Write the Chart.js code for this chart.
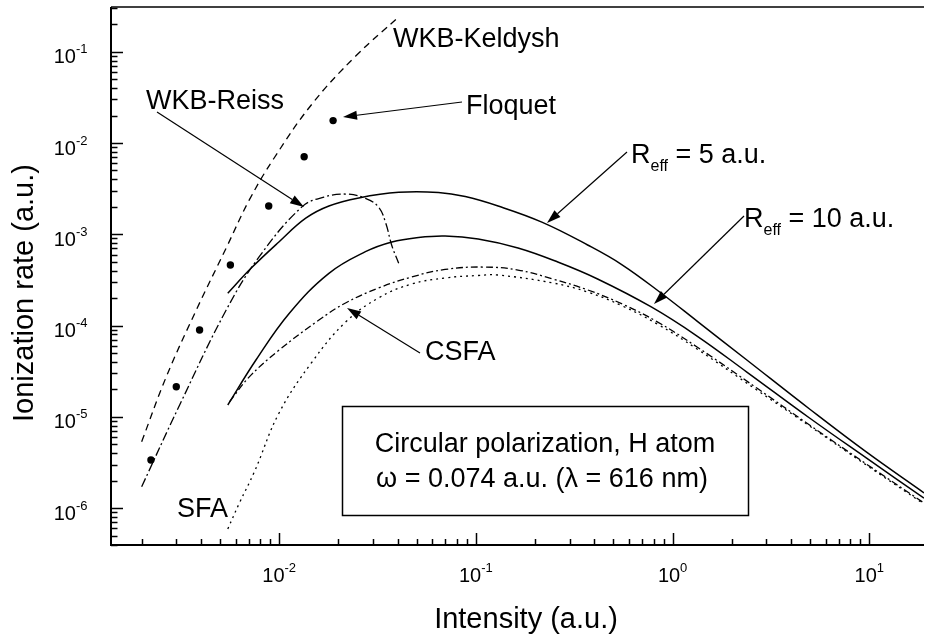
<!DOCTYPE html>
<html><head><meta charset="utf-8">
<script src="https://cdn.jsdelivr.net/npm/chart.js@4.4.1/dist/chart.umd.min.js"></script>
<style>html,body{margin:0;padding:0;background:#fff}canvas{display:block}</style>
</head><body>
<canvas id="c" width="928" height="641"></canvas>
<script>
// ---- data (intensity a.u., rate a.u.) ----
const keldyshX = [2.0e-3, 2.67e-3, 3.79e-3, 5.38e-3, 7.05e-3, 9.43e-3, 0.0147, 0.0245, 0.0405];
const keldyshY = [5.35e-6, 2.76e-5, 1.48e-4, 7.08e-4, 2.38e-3, 6.85e-3, 0.0268, 0.0897, 0.240];

const floquetX = [2.23e-3, 3.0e-3, 3.94e-3, 5.65e-3, 8.85e-3, 0.0134, 0.0188];
const floquetY = [3.37e-6, 2.14e-5, 8.95e-5, 4.61e-4, 2.04e-3, 7.08e-3, 0.0176];

const reissX = [2.0e-3, 3.12e-3, 5.38e-3, 7.92e-3, 0.0131, 0.0169, 0.02175, 0.02745, 0.0320, 0.0348, 0.0373, 0.0405];
const reissY = [1.72e-6, 1.35e-5, 1.48e-4, 5.68e-4, 2.01e-3, 2.56e-3, 2.76e-3, 2.48e-3, 1.99e-3, 1.33e-3, 7.64e-4, 4.81e-4];

const reff5X = [5.48e-3, 7.19e-3, 0.01, 0.01365, 0.0179, 0.0254, 0.0405, 0.0645, 0.0883, 0.1297, 0.2164, 0.3698, 0.556, 0.886, 1.331, 2.384, 4.966, 9.645, 18.96];
const reff5Y = [2.26e-4, 4.24e-4, 8.30e-4, 1.50e-3, 2.04e-3, 2.50e-3, 2.88e-3, 2.87e-3, 2.59e-3, 2.04e-3, 1.36e-3, 7.64e-4, 4.61e-4, 2.22e-4, 1.12e-4, 4.20e-5, 1.22e-5, 4.13e-6, 1.47e-6];

const reff10X = [5.48e-3, 7.62e-3, 0.01124, 0.0179, 0.02745, 0.0374, 0.0511, 0.0697, 0.1027, 0.1637, 0.2608, 0.4155, 0.779, 1.331, 2.384, 4.966, 9.645, 18.96];
const reff10Y = [1.35e-5, 4.20e-5, 1.36e-4, 3.74e-4, 6.45e-4, 8.24e-4, 9.23e-4, 9.58e-4, 8.88e-4, 7.08e-4, 4.97e-4, 3.24e-4, 1.60e-4, 7.69e-5, 3.10e-5, 9.72e-6, 3.55e-6, 1.29e-6];

const csfaX = [5.59e-3, 7.05e-3, 0.01, 0.01593, 0.02175, 0.0320, 0.0472, 0.0697, 0.1089, 0.1637, 0.246, 0.3698, 0.556, 0.836, 1.331, 2.679, 4.966, 9.645, 18.96];
const csfaY = [1.46e-5, 2.74e-5, 5.40e-5, 1.15e-4, 1.77e-4, 2.58e-4, 3.41e-4, 4.12e-4, 4.38e-4, 4.06e-4, 3.24e-4, 2.46e-4, 1.72e-4, 1.10e-4, 5.83e-5, 2.07e-5, 8.15e-6, 3.05e-6, 1.14e-6];

const sfaX = [5.48e-3, 6.28e-3, 7.475e-3, 0.01, 0.01469, 0.02183, 0.0320, 0.04707, 0.06994, 0.1027, 0.1297, 0.246, 0.3698, 0.556, 0.836, 1.331, 2.679, 4.966, 9.645, 18.96];
const sfaY = [5.92e-7, 1.14e-6, 2.49e-6, 1.11e-5, 3.99e-5, 1.10e-4, 2.01e-4, 2.85e-4, 3.33e-4, 3.54e-4, 3.58e-4, 2.93e-4, 2.33e-4, 1.64e-4, 1.04e-4, 5.54e-5, 1.97e-5, 7.95e-6, 2.97e-6, 1.11e-6];

// axis ranges and tick labels
const xRange = [1.397e-3, 18.96];
const yRange = [3.95e-7, 0.309];
const xMajorTicks = [1e-2, 1e-1, 1e0, 1e1];
const xTickExp = ['-2', '-1', '0', '1'];
const yMajorTicks = [1e-6, 1e-5, 1e-4, 1e-3, 1e-2, 1e-1];
const yTickExp = ['-6', '-5', '-4', '-3', '-2', '-1'];

const xTitle = 'Intensity (a.u.)';
const yTitle = 'Ionization rate (a.u.)';

const pts = (xs, ys) => xs.map((x, i) => ({x, y: ys[i]}));

const FONT = '"Liberation Sans", Arial, sans-serif';

function lineDS(label, xs, ys, dash, width) {
  return {
    label, data: pts(xs, ys), borderColor: '#000', backgroundColor: '#000',
    borderWidth: width || 1.4, borderDash: dash || [], pointRadius: 0,
    tension: 0.4, fill: false, showLine: true
  };
}

function minorValues(min, max) {
  const out = [];
  for (let e = Math.floor(Math.log10(min)); e <= Math.ceil(Math.log10(max)); e++) {
    for (let m = 1; m <= 9; m++) {
      const v = m * Math.pow(10, e);
      if (v >= min * 0.9999 && v <= max * 1.0001) out.push({v, major: m === 1});
    }
  }
  return out;
}

function drawPow(ctx, exp, x, baseline, mode) {
  ctx.font = '20px ' + FONT;
  const w10 = ctx.measureText('10').width;
  ctx.font = '13px ' + FONT;
  const we = ctx.measureText(exp).width;
  const w = w10 + we;
  let sx = mode === 'center' ? x - w / 2 : x - w;
  ctx.textAlign = 'left';
  ctx.textBaseline = 'alphabetic';
  ctx.font = '20px ' + FONT;
  ctx.fillText('10', sx, baseline);
  ctx.font = '13px ' + FONT;
  ctx.fillText(exp, sx + w10, baseline - 10);
}

function arrow(ctx, x1, y1, x2, y2) {
  const L = 14, H = 4.5;
  const a = Math.atan2(y2 - y1, x2 - x1);
  const bx = x2 - L * Math.cos(a), by = y2 - L * Math.sin(a);
  ctx.beginPath();
  ctx.moveTo(x1, y1); ctx.lineTo(bx, by);
  ctx.lineWidth = 1.2; ctx.strokeStyle = '#000'; ctx.setLineDash([]);
  ctx.stroke();
  ctx.beginPath();
  ctx.moveTo(x2, y2);
  ctx.lineTo(bx + H * Math.sin(a), by - H * Math.cos(a));
  ctx.lineTo(bx - H * Math.sin(a), by + H * Math.cos(a));
  ctx.closePath(); ctx.fillStyle = '#000'; ctx.fill();
}

function reffLabel(ctx, x, y, rest) {
  ctx.textAlign = 'left'; ctx.textBaseline = 'alphabetic';
  ctx.font = '27px ' + FONT;
  ctx.fillText('R', x, y);
  let cx = x + ctx.measureText('R').width;
  ctx.font = '16px ' + FONT;
  ctx.fillText('eff', cx, y + 8);
  cx += ctx.measureText('eff').width;
  ctx.font = '27px ' + FONT;
  ctx.fillText(rest, cx, y);
}

const axesPlugin = {
  id: 'axesPlugin',
  afterDraw(chart) {
    const ctx = chart.ctx, a = chart.chartArea;
    const xs = chart.scales.x, ys = chart.scales.y;
    ctx.save();
    ctx.strokeStyle = '#000'; ctx.fillStyle = '#000'; ctx.setLineDash([]);
    // frame
    ctx.lineWidth = 2;
    ctx.beginPath();
    ctx.moveTo(a.left, a.top); ctx.lineTo(a.left, a.bottom); ctx.lineTo(a.right, a.bottom);
    ctx.stroke();
    ctx.lineWidth = 1.6;
    ctx.beginPath(); ctx.moveTo(a.left, a.top); ctx.lineTo(a.right, a.top); ctx.stroke();
    // ticks
    ctx.lineWidth = 1.5;
    minorValues(xRange[0], xRange[1]).forEach(t => {
      const px = Math.round(xs.getPixelForValue(t.v)) + 0.5;
      ctx.beginPath(); ctx.moveTo(px, a.bottom); ctx.lineTo(px, a.bottom - (t.major ? 12 : 6)); ctx.stroke();
    });
    minorValues(yRange[0], yRange[1]).forEach(t => {
      const py = Math.round(ys.getPixelForValue(t.v)) + 0.5;
      ctx.beginPath(); ctx.moveTo(a.left, py); ctx.lineTo(a.left + (t.major ? 12 : 6.5), py); ctx.stroke();
    });
    // tick labels
    xMajorTicks.forEach((v, i) => drawPow(ctx, xTickExp[i], xs.getPixelForValue(v), a.bottom + 37, 'center'));
    yMajorTicks.forEach((v, i) => drawPow(ctx, yTickExp[i], a.left - 23.5, ys.getPixelForValue(v) + 11.6, 'right'));
    // axis titles
    ctx.font = '29px ' + FONT;
    ctx.textAlign = 'center'; ctx.textBaseline = 'alphabetic';
    ctx.fillText(xTitle, 526, 628);
    ctx.save();
    ctx.translate(33, 293); ctx.rotate(-Math.PI / 2);
    ctx.fillText(yTitle, 0, 0);
    ctx.restore();

    // annotations
    ctx.font = '27px ' + FONT;
    ctx.textAlign = 'left';
    ctx.fillText('WKB-Keldysh', 393, 47);
    ctx.fillText('WKB-Reiss', 146, 109);
    ctx.fillText('Floquet', 466, 114);
    ctx.fillText('CSFA', 425, 360);
    ctx.fillText('SFA', 177, 517);
    reffLabel(ctx, 631, 163, ' = 5 a.u.');
    reffLabel(ctx, 744, 227, ' = 10 a.u.');
    arrow(ctx, 157, 112, 304, 207);
    arrow(ctx, 462, 102, 343, 117);
    arrow(ctx, 627, 152, 547, 223);
    arrow(ctx, 744, 216, 654, 304);
    arrow(ctx, 420, 353, 347, 308);

    // info box
    ctx.fillStyle = '#fff';
    ctx.fillRect(342, 406, 406, 109);
    ctx.lineWidth = 1.5; ctx.strokeStyle = '#000';
    ctx.strokeRect(342.5, 406.5, 406, 109);
    ctx.fillStyle = '#000';
    ctx.font = '27px ' + FONT;
    ctx.textAlign = 'center';
    ctx.fillText('Circular polarization, H atom', 545, 452);
    ctx.fillText('\u03c9 = 0.074 a.u. (\u03bb = 616 nm)', 542, 487);
    ctx.restore();
  }
};

new Chart(document.getElementById('c'), {
  type: 'line',
  data: {
    datasets: [
      lineDS('WKB-Keldysh', keldyshX, keldyshY, [7, 5], 1.3),
      lineDS('WKB-Reiss', reissX, reissY, [9, 3, 2, 3], 1.3),
      lineDS('R_eff = 5 a.u.', reff5X, reff5Y, [], 1.5),
      lineDS('R_eff = 10 a.u.', reff10X, reff10Y, [], 1.5),
      lineDS('CSFA', csfaX, csfaY, [7, 3, 2, 3], 1.3),
      lineDS('SFA', sfaX, sfaY, [2, 4], 1.3),
      {
        label: 'Floquet', data: pts(floquetX, floquetY), showLine: false,
        pointRadius: 3.7, pointBackgroundColor: '#000', pointBorderColor: '#000', borderWidth: 0
      }
    ]
  },
  options: {
    responsive: false, animation: false, devicePixelRatio: 1,
    layout: {padding: {left: 111, top: 7, right: 0, bottom: 96}},
    plugins: {legend: {display: false}, tooltip: {enabled: false}},
    scales: {
      x: {type: 'logarithmic', min: xRange[0], max: xRange[1], display: false, bounds: 'data'},
      y: {type: 'logarithmic', min: yRange[0], max: yRange[1], display: false, bounds: 'data'}
    }
  },
  plugins: [axesPlugin]
});
</script>
</body></html>
